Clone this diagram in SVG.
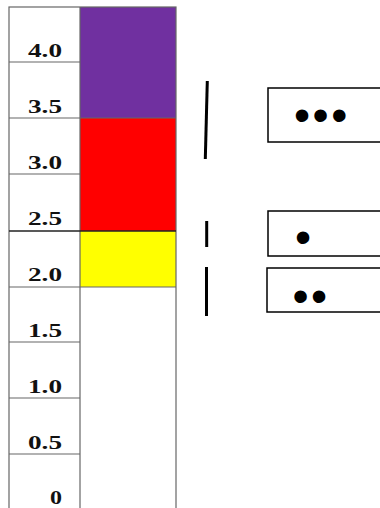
<svg xmlns="http://www.w3.org/2000/svg" width="380" height="508" viewBox="0 0 380 508">
<style>
.lbl{font-family:"Liberation Serif","Times New Roman",serif;font-weight:bold;font-size:19px;fill:#111;text-anchor:end}
.grid{stroke:#666;stroke-width:1.2;fill:none}
.bar{stroke:#000;stroke-width:3;stroke-linecap:butt}
.box{fill:#fff;stroke:#000;stroke-width:1.5}
.dots{font-family:"Liberation Sans",Arial,sans-serif;font-size:46px;fill:#000}
</style>
<rect width="380" height="508" fill="#fff"/>
<g id="column">
<rect x="80" y="7" width="96" height="111" fill="#7030A0"/>
<rect x="80" y="118" width="96" height="113" fill="#FF0000"/>
<rect x="80" y="231" width="96" height="56" fill="#FFFF00"/>
<rect x="9" y="7" width="167" height="510" class="grid"/>
<line x1="80" y1="7" x2="80" y2="508" class="grid"/>
<line x1="9" y1="62" x2="80" y2="62" class="grid"/>
<line x1="9" y1="118" x2="176" y2="118" class="grid"/>
<line x1="9" y1="174" x2="80" y2="174" class="grid"/>
<line x1="9" y1="231" x2="176" y2="231" stroke="#222" stroke-width="1.5"/>
<line x1="9" y1="287" x2="176" y2="287" class="grid"/>
<line x1="9" y1="342" x2="80" y2="342" class="grid"/>
<line x1="9" y1="398" x2="80" y2="398" class="grid"/>
<line x1="9" y1="454" x2="80" y2="454" class="grid"/>
</g>
<g id="labels">
<text class="lbl" x="62" y="56.5" textLength="34" lengthAdjust="spacingAndGlyphs">4.0</text>
<text class="lbl" x="62" y="112.5" textLength="34" lengthAdjust="spacingAndGlyphs">3.5</text>
<text class="lbl" x="62" y="168.5" textLength="34" lengthAdjust="spacingAndGlyphs">3.0</text>
<text class="lbl" x="62" y="225" textLength="34" lengthAdjust="spacingAndGlyphs">2.5</text>
<text class="lbl" x="62" y="280.5" textLength="34" lengthAdjust="spacingAndGlyphs">2.0</text>
<text class="lbl" x="62" y="336.5" textLength="34" lengthAdjust="spacingAndGlyphs">1.5</text>
<text class="lbl" x="62" y="392.5" textLength="34" lengthAdjust="spacingAndGlyphs">1.0</text>
<text class="lbl" x="62" y="448.5" textLength="34" lengthAdjust="spacingAndGlyphs">0.5</text>
<text class="lbl" x="62" y="503.5" textLength="12" lengthAdjust="spacingAndGlyphs">0</text>
</g>
<g id="connectors">
<line x1="207.3" y1="81" x2="205.3" y2="159" class="bar"/>
<line x1="206.7" y1="221" x2="206.7" y2="247" class="bar"/>
<line x1="206.5" y1="267" x2="206.5" y2="316" class="bar"/>
</g>
<g id="node-three">
<rect x="268" y="88" width="130" height="54" class="box"/>
<text class="dots" x="294" y="130.5" letter-spacing="2.5">•••</text>
</g>
<g id="node-one">
<rect x="268" y="211" width="130" height="45" class="box"/>
<text class="dots" x="295" y="253">•</text>
</g>
<g id="node-two">
<rect x="267" y="268" width="130" height="44" class="box"/>
<text class="dots" x="292.5" y="311.5" letter-spacing="2.5">••</text>
</g>
</svg>
